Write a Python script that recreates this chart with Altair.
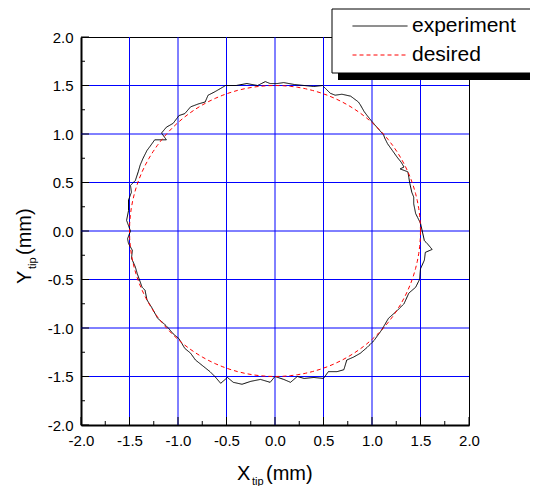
import altair as alt
import pandas as pd
import numpy as np

# ---- data ----
exp_x = [1.52, 1.50, 1.47, 1.45, 1.43, 1.43, 1.41, 1.39, 1.38, 1.37, 1.29, 1.33, 1.30, 1.26, 1.21,
         1.16, 1.13, 1.12, 1.05, 0.99, 0.95, 0.92, 0.88, 0.86, 0.78, 0.69, 0.62, 0.57, 0.52, 0.49,
         0.40, 0.30, 0.20, 0.09, 0.02, -0.05, -0.10, -0.18, -0.29, -0.40, -0.51, -0.56, -0.63, -0.69,
         -0.72, -0.79, -0.87, -0.93, -0.99, -1.05, -1.12, -1.17, -1.12, -1.24, -1.29, -1.32, -1.36,
         -1.39, -1.41, -1.44, -1.49, -1.48, -1.51, -1.51, -1.53, -1.49, -1.52, -1.51, -1.47, -1.48,
         -1.44, -1.42, -1.37, -1.34, -1.32, -1.27, -1.21, -1.15, -1.10, -1.05, -0.99, -0.96, -0.93,
         -0.87, -0.82, -0.77, -0.72, -0.67, -0.62, -0.56, -0.49, -0.43, -0.34, -0.25, -0.15, -0.05,
         0.00, 0.09, 0.16, 0.23, 0.30, 0.40, 0.50, 0.55, 0.64, 0.71, 0.74, 0.81, 0.88, 0.95, 1.02,
         1.10, 1.17, 1.26, 1.33, 1.38, 1.45, 1.49, 1.50, 1.54, 1.55, 1.62, 1.57, 1.54, 1.52]
exp_y = [-0.01, 0.08, 0.14, 0.18, 0.28, 0.35, 0.40, 0.49, 0.55, 0.61, 0.64, 0.66, 0.71, 0.76, 0.83,
         0.90, 0.96, 0.99, 1.07, 1.14, 1.19, 1.23, 1.30, 1.33, 1.39, 1.41, 1.40, 1.42, 1.47, 1.50,
         1.49, 1.50, 1.51, 1.53, 1.52, 1.52, 1.54, 1.50, 1.52, 1.50, 1.50, 1.47, 1.43, 1.40,
         1.33, 1.31, 1.28, 1.21, 1.19, 1.11, 1.07, 1.01, 0.94, 0.94, 0.87, 0.83, 0.75,
         0.68, 0.61, 0.52, 0.47, 0.40, 0.32, 0.21, 0.11, 0.00, -0.08, -0.13, -0.20, -0.28,
         -0.37, -0.44, -0.58, -0.61, -0.71, -0.79, -0.90, -0.95, -1.00, -1.06, -1.11, -1.16, -1.21,
         -1.26, -1.33, -1.37, -1.41, -1.45, -1.50, -1.57, -1.51, -1.56, -1.58, -1.55, -1.53, -1.56,
         -1.50, -1.53, -1.56, -1.50, -1.52, -1.51, -1.52, -1.45, -1.45, -1.43, -1.33, -1.30, -1.26,
         -1.20, -1.13, -1.02, -0.90, -0.82, -0.75, -0.64, -0.58, -0.50, -0.39, -0.30, -0.22, -0.19,
         -0.13, -0.10, -0.01]

desired_radius = 1.5
desired_angles_deg = list(range(0, 361, 3))

series_names = ["experiment", "desired"]
series_colors = ["#000000", "#FF0000"]
series_dashes = [[1, 0], [4, 3]]

tick_labels = [-2.0, -1.5, -1.0, -0.5, 0.0, 0.5, 1.0, 1.5, 2.0]
minor_ticks = [-1.75, -1.25, -0.75, -0.25, 0.25, 0.75, 1.25, 1.75]
grid_values = [-1.5, -1.0, -0.5, 0.0, 0.5, 1.0, 1.5]

# ---- tables ----
rows = []
for i, (x, y) in enumerate(zip(exp_x, exp_y)):
    rows.append({"series": "experiment", "x": x, "y": y, "i": i})
for i, a in enumerate(desired_angles_deg):
    r = np.radians(a)
    rows.append({"series": "desired", "x": desired_radius * np.cos(r),
                 "y": desired_radius * np.sin(r), "i": i})
lines_df = pd.DataFrame(rows)
grid_df = pd.DataFrame({"v": grid_values})
major_df = pd.DataFrame({"t": tick_labels})
minor_df = pd.DataFrame({"t": minor_ticks})

W = H = 388
FONT = "Liberation Sans"
xscale = alt.Scale(domain=[-2, 2], nice=False, zero=False)
yscale = alt.Scale(domain=[-2, 2], nice=False, zero=False)
label_expr = "replace(format(datum.value, '.1f'), '\u2212', '-')"

x_axis = alt.Axis(values=tick_labels, labelExpr=label_expr, title=None, ticks=False, grid=False,
                  domain=True, domainColor="black", domainWidth=2, labelPadding=8,
                  labelFlush=False, labelFontSize=15, labelFont=FONT, labelColor="black")
y_axis = alt.Axis(values=tick_labels, labelExpr=label_expr, title=None, ticks=False, grid=False,
                  domain=True, domainColor="black", domainWidth=2, labelPadding=8,
                  labelFlush=False, labelFontSize=15, labelFont=FONT, labelColor="black")

vgrid = alt.Chart(grid_df).mark_rule(color="#0000FF", strokeWidth=1).encode(
    x=alt.X("v:Q", scale=xscale, axis=x_axis))
hgrid = alt.Chart(grid_df).mark_rule(color="#0000FF", strokeWidth=1).encode(
    y=alt.Y("v:Q", scale=yscale, axis=y_axis))

lines = alt.Chart(lines_df).mark_line(strokeWidth=1).encode(
    x=alt.X("x:Q", scale=xscale),
    y=alt.Y("y:Q", scale=yscale),
    color=alt.Color("series:N", scale=alt.Scale(domain=series_names, range=series_colors),
                    legend=alt.Legend(title=None)),
    strokeDash=alt.StrokeDash("series:N", scale=alt.Scale(domain=series_names, range=series_dashes),
                              legend=alt.Legend(title=None)),
    order=alt.Order("i:Q"),
)

one = alt.Data(values=[{}])
shadow = alt.Chart(one).mark_rect(fill="black").encode(
    x=alt.value(257), x2=alt.value(540), y=alt.value(-26), y2=alt.value(43))
box = alt.Chart(one).mark_rect(fill="white", stroke="black", strokeWidth=1).encode(
    x=alt.value(251), x2=alt.value(540), y=alt.value(-28), y2=alt.value(36))

xmaj = alt.Chart(major_df).mark_rule(color="black").encode(
    x=alt.X("t:Q", scale=xscale), y=alt.value(H), y2=alt.value(H - 8))
xmin = alt.Chart(minor_df).mark_rule(color="black").encode(
    x=alt.X("t:Q", scale=xscale), y=alt.value(H), y2=alt.value(H - 4))
ymaj = alt.Chart(major_df).mark_rule(color="black").encode(
    y=alt.Y("t:Q", scale=yscale), x=alt.value(0), x2=alt.value(8))
ymin = alt.Chart(minor_df).mark_rule(color="black").encode(
    y=alt.Y("t:Q", scale=yscale), x=alt.value(0), x2=alt.value(4))

def txt(s, x, y, size, angle=0):
    return alt.Chart(one).mark_text(text=s, font=FONT, fontSize=size, color="black",
                                    align="left", baseline="alphabetic", angle=angle).encode(
        x=alt.value(x), y=alt.value(y))

titles = [
    txt("X", 156, 443, 20), txt("tip", 171, 448, 11), txt("(mm)", 185, 443, 20),
    txt("Y", -50, 247, 20, 270), txt("tip", -45, 232, 11, 270), txt("(mm)", -50, 218, 20, 270),
]

chart = alt.layer(vgrid, hgrid, lines, shadow, box, xmaj, xmin, ymaj, ymin, *titles).properties(
    width=W, height=H,
    padding={"left": 73, "top": 29, "right": 61, "bottom": 61},
    autosize=alt.AutoSizeParams(type="none"),
    background="white",
).resolve_scale(x="shared", y="shared").configure_view(
    stroke="black", strokeWidth=1
).configure_legend(
    orient="none", legendX=271, legendY=-24.5, padding=0, symbolType="stroke",
    symbolSize=3025, symbolStrokeWidth=1, labelOffset=4, clipHeight=27, rowPadding=2,
    labelFontSize=21, labelFont=FONT, labelColor="black", zindex=1,
)

chart.save("out.html", embed_options={"renderer": "svg", "actions": False})
